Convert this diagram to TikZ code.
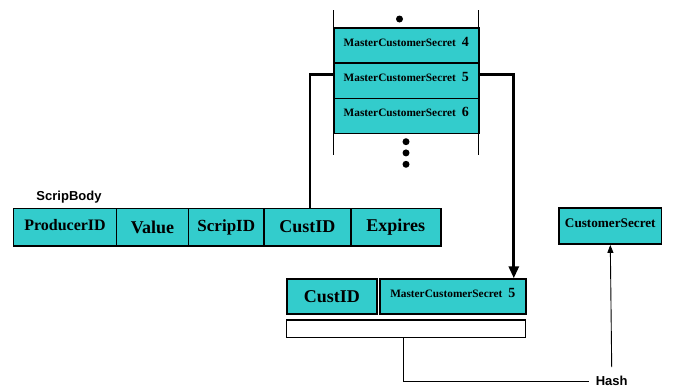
\documentclass[tikz,border=0pt]{standalone}
\usepackage{fontspec}
\setmainfont{Liberation Serif}
\setsansfont{Liberation Sans}
\usetikzlibrary{arrows.meta}
\definecolor{cellfill}{HTML}{33CCCC}
\begin{document}
\begin{tikzpicture}[x=1pt,y=-1pt,
  cell/.style={draw=black, line width=1.6pt, fill=cellfill, inner sep=0pt, anchor=north west, font=\bfseries},
  lifted/.style={text height=8pt, text depth=7pt},
  blank/.style={draw=black, line width=1.2pt, fill=white, inner sep=0pt, anchor=north west},
  heavy/.style={line width=2.8pt},
  fine/.style={line width=0.9pt},
  lbl/.style={font=\sffamily\bfseries\fontsize{13}{15}\selectfont, inner sep=0pt},
  dot/.style={circle, fill=black, inner sep=0pt, minimum size=7pt},
  bigtip/.style={-{Triangle[width=10pt,length=12pt]}},
  smalltip/.style={-{Triangle[width=6pt,length=8pt]}}
]
\useasboundingbox (0,0) rectangle (679,388);

\newcommand{\mcs}[1]{\fontsize{11.3}{13}\selectfont MasterCustomerSecret\hspace{6pt}{\fontsize{14}{16}\selectfont #1}}

% stack of master secrets
\draw[fine] (333,10) -- (333,155);
\draw[fine] (478,10) -- (478,155);
\node[cell, lifted, minimum width=145, minimum height=35] (m4) at (333,27.3) {\mcs{4}};
\node[cell, lifted, minimum width=145, minimum height=35.4] (m5) at (333,62.3) {\mcs{5}};
\node[cell, lifted, minimum width=145, minimum height=35] (m6) at (333,97.7) {\mcs{6}};
\node[dot] (d0) at (399.5,19) {};
\node[dot] (d1) at (406,141.7) {};
\node[dot] (d2) at (406,152.9) {};
\node[dot] (d3) at (406,164.3) {};

% scrip body
\node[lbl] (sb) at (69,197) {ScripBody};
\node[cell, minimum width=103, minimum height=37.5, font=\bfseries\fontsize{16}{18}\selectfont, text height=12pt, text depth=6pt] (pid) at (12.7,207.5) {ProducerID};
\node[cell, minimum width=72, minimum height=37.5, font=\bfseries\fontsize{18}{20}\selectfont] (val) at (115.7,207.5) {Value};
\node[cell, minimum width=75.6, minimum height=37.5, font=\bfseries\fontsize{17}{19}\selectfont] (sid) at (187.7,207.5) {ScripID};
\node[cell, minimum width=86.7, minimum height=37.5, font=\bfseries\fontsize{18}{20}\selectfont] (cid) at (263.3,207.5) {CustID};
\node[cell, minimum width=90, minimum height=37.5, font=\bfseries\fontsize{18}{20}\selectfont] (exp) at (350,207.5) {Expires};

% hash input
\node[cell, minimum width=90, minimum height=35, font=\bfseries\fontsize{18}{20}\selectfont] (hcid) at (286,278.3) {CustID};
\node[cell, lifted, minimum width=146, minimum height=35] (hmcs) at (379,278.3) {\mcs{5}};
\node[blank, minimum width=239, minimum height=17.4] (wb) at (286,319.3) {};

% customer secret and hash
\node[cell, minimum width=102.4, minimum height=36, font=\bfseries\fontsize{13.2}{15}\selectfont, text height=9pt, text depth=6pt] (cs) at (558.3,207.3) {CustomerSecret};
\node[lbl] (hash) at (611.7,381) {Hash};

% connectors
\draw[heavy] ([yshift=6pt]m5.west) -| ([xshift=2.6pt]cid.north);
\draw[heavy, bigtip] ([yshift=6pt]m5.east) -| ([xshift=61pt]hmcs.north);
\draw[fine] ([xshift=-2.2pt]wb.south) |- ([xshift=-7pt]hash.west);
\draw[fine, smalltip] ([yshift=9pt]hash.north) -- (cs.south);
\end{tikzpicture}
\end{document}
